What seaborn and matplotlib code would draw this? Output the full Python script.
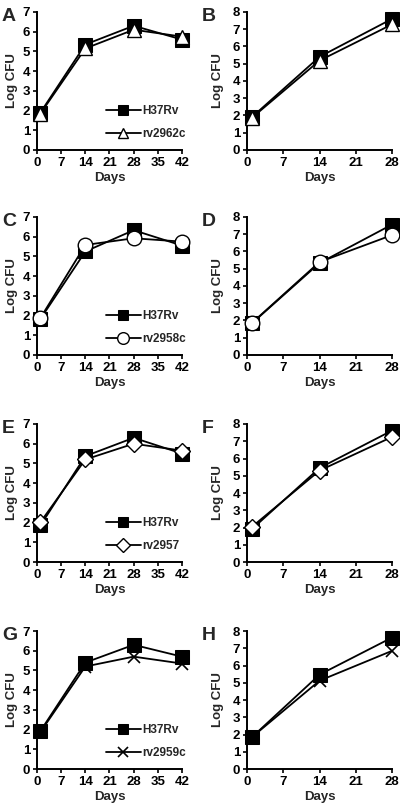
import matplotlib
matplotlib.use("Agg")
import matplotlib.pyplot as plt
import seaborn as sns
import pandas as pd

sns.set_theme(style="ticks")
plt.rcParams['font.family'] = ['Liberation Sans', 'DejaVu Sans']
plt.rcParams['font.weight'] = 'bold'

days_long = [1, 14, 28, 42]
days_short = [1, 14, 28]
xticks_long = [0, 7, 14, 21, 28, 35, 42]
xticks_short = [0, 7, 14, 21, 28]

# Left column (42 days)
a_h37rv = [1.9, 5.35, 6.3, 5.6]
a_mut = [1.85, 5.15, 6.1, 5.75]
c_h37rv = [1.83, 5.25, 6.33, 5.55]
c_mut = [1.88, 5.58, 5.92, 5.75]
e_h37rv = [1.86, 5.37, 6.3, 5.5]
e_mut = [2.02, 5.2, 6.0, 5.65]
g_h37rv = [1.93, 5.4, 6.3, 5.7]
g_mut = [1.88, 5.2, 5.7, 5.35]

# Right column (28 days)
b_h37rv = [1.92, 5.4, 7.6]
b_mut = [1.88, 5.18, 7.28]
d_h37rv = [1.85, 5.33, 7.56]
d_mut = [1.87, 5.39, 6.95]
f_h37rv = [1.92, 5.45, 7.62]
f_mut = [2.05, 5.3, 7.25]
h_h37rv = [1.86, 5.47, 7.62]
h_mut = [1.86, 5.12, 6.85]

mutant_names = ["rv2962c", "rv2958c", "rv2957", "rv2959c"]
mutant_markers = ["^", "o", "D", "x"]
mutant_sizes = [9.5, 10.5, 8.5, 9]

fig = plt.figure(figsize=(4.0, 8.09), dpi=100)

row_bottoms = [0.8146, 0.5612, 0.3053, 0.0494]
height = 0.1706
left_x, right_x, width = 0.0925, 0.6175, 0.3625

left_data = [(a_h37rv, a_mut), (c_h37rv, c_mut), (e_h37rv, e_mut), (g_h37rv, g_mut)]
right_data = [(b_h37rv, b_mut), (d_h37rv, d_mut), (f_h37rv, f_mut), (h_h37rv, h_mut)]
letters_left = ["A", "C", "E", "G"]
letters_right = ["B", "D", "F", "H"]

FS = 9.5


def draw(ax, days, wt, mut, mname, mmark, msize, xmax, ymax, xticks, legend, ylpad):
    df_wt = pd.DataFrame({"Days": days, "Log CFU": wt})
    df_mut = pd.DataFrame({"Days": days, "Log CFU": mut})
    sns.lineplot(data=df_wt, x="Days", y="Log CFU", ax=ax, color="black",
                 marker="s", markersize=9.5, markerfacecolor="black",
                 markeredgecolor="black", linewidth=1.3, label="H37Rv",
                 clip_on=False, zorder=3)
    if mmark == "x":
        sns.lineplot(data=df_mut, x="Days", y="Log CFU", ax=ax, color="black",
                     marker="x", markersize=msize, markeredgewidth=1.2,
                     markeredgecolor="black", linewidth=1.3, label=mname,
                     clip_on=False, zorder=4)
    else:
        sns.lineplot(data=df_mut, x="Days", y="Log CFU", ax=ax, color="black",
                     marker=mmark, markersize=msize, markerfacecolor="white",
                     markeredgecolor="black", markeredgewidth=1.0,
                     linewidth=1.3, label=mname, clip_on=False, zorder=4)
    ax.set_xlim(0, xmax)
    ax.set_ylim(0, ymax)
    ax.set_xticks(xticks)
    ax.set_yticks(range(0, ymax + 1))
    sns.despine(ax=ax)
    for s in ["left", "bottom"]:
        ax.spines[s].set_linewidth(1.4)
        ax.spines[s].set_color("black")
    ax.tick_params(axis="both", direction="out", length=3, width=1.2,
                   labelsize=FS, pad=2, colors="black")
    for lab in ax.get_xticklabels() + ax.get_yticklabels():
        lab.set_fontweight("bold")
    ax.set_xlabel("Days", fontsize=FS, fontweight="bold", labelpad=2)
    ax.set_ylabel("Log CFU", fontsize=FS, fontweight="bold", labelpad=ylpad)
    if legend:
        leg = ax.legend(loc="lower left", bbox_to_anchor=(0.44, 0.04),
                        frameon=False, fontsize=8.5, handlelength=3.0,
                        handletextpad=0.15, labelspacing=0.9, markerscale=0.8,
                        borderaxespad=0)
        for t in leg.get_texts():
            t.set_fontweight("bold")
    else:
        lg = ax.get_legend()
        if lg is not None:
            lg.remove()


for i in range(4):
    axl = fig.add_axes([left_x, row_bottoms[i], width, height])
    wt, mut = left_data[i]
    draw(axl, days_long, wt, mut, mutant_names[i], mutant_markers[i],
         mutant_sizes[i], 42, 7, xticks_long, True, 3)
    axr = fig.add_axes([right_x, row_bottoms[i], width, height])
    wt, mut = right_data[i]
    draw(axr, days_short, wt, mut, mutant_names[i], mutant_markers[i],
         mutant_sizes[i], 28, 8, xticks_short, False, 6)
    top = row_bottoms[i] + height
    fig.text(0.005, top + 0.005, letters_left[i], fontsize=14, fontweight="bold",
             va="top", ha="left")
    fig.text(0.505, top + 0.005, letters_right[i], fontsize=14, fontweight="bold",
             va="top", ha="left")

fig.savefig("out.png", dpi=100)
